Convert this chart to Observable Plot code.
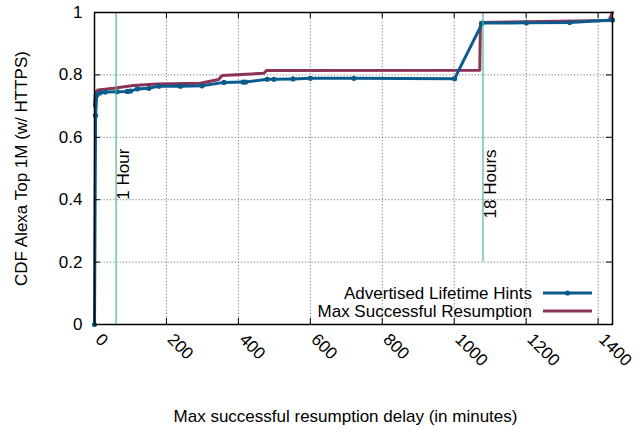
<!DOCTYPE html>
<html>
<head>
<meta charset="utf-8">
<script src="https://cdn.jsdelivr.net/npm/d3@7"></script>
<script src="https://cdn.jsdelivr.net/npm/@observablehq/plot@0.6"></script>
<style>
  html, body { margin: 0; padding: 0; background: #fff; }
  #chart { width: 642px; height: 436px; }
  svg { font-family: "Liberation Sans", Arial, Helvetica, sans-serif; }
</style>
</head>
<body>
<div id="chart"></div>
<script>
// ---- data (minutes, CDF) ----
const hintsX = [0, 3, 6, 15, 30, 63, 91, 100, 119, 151, 179, 239, 299, 360, 413, 420, 480, 499, 552, 600, 721, 1001, 1078, 1201, 1321, 1440];
const hintsY = [0, 0.67, 0.735, 0.742, 0.745, 0.746, 0.747, 0.748, 0.755, 0.757, 0.764, 0.764, 0.765, 0.776, 0.777, 0.777, 0.786, 0.786, 0.787, 0.789, 0.789, 0.788, 0.966, 0.967, 0.968, 0.976];
const resumeX = [0, 3, 10, 53, 108, 174, 294, 345, 355, 471, 478, 1071, 1073, 1430, 1440];
const resumeY = [0.70, 0.745, 0.752, 0.757, 0.766, 0.771, 0.773, 0.785, 0.798, 0.805, 0.814, 0.815, 0.968, 0.974, 1.0];
const seriesNames = ["Advertised Lifetime Hints", "Max Successful Resumption"];
const seriesColors = ["#0b5c8e", "#8c3358"];
const xTicks = [0, 200, 400, 600, 800, 1000, 1200, 1400];
const yTicks = [0, 0.2, 0.4, 0.6, 0.8, 1];
const yTickLabels = ["0", "0.2", "0.4", "0.6", "0.8", "1"];
const markerX = [60, 1080];
const markerFrom = [0, 0.2];
const markerLabelY = [0.4, 0.34];
const markerLabels = ["1 Hour", "18 Hours"];
const xLabel = "Max successful resumption delay (in minutes)";
const yLabel = "CDF Alexa Top 1M (w/ HTTPS)";

const hints = hintsX.map((x, i) => ({x, y: hintsY[i]}));
const resume = resumeX.map((x, i) => ({x, y: resumeY[i]}));
const markers = markerX.map((x, i) => ({x, y1: markerFrom[i], y2: 1, ly: markerLabelY[i], label: markerLabels[i]}));

const W = 642, H = 436, mL = 94, mR = 30, mT = 12, mB = 112;
const pw = W - mL - mR, ph = H - mT - mB;
const green = "#46b894";
const fs = 17;

const chart = Plot.plot({
  width: W, height: H,
  marginLeft: mL, marginRight: mR, marginTop: mT, marginBottom: mB,
  style: {fontFamily: "Liberation Sans, Arial, sans-serif", fontSize: fs + "px", color: "#000", background: "#fff"},
  x: {domain: [0, 1440], axis: null},
  y: {domain: [0, 1], axis: null},
  marks: [
    Plot.ruleX(xTicks.filter(d => d > 0), {x: d => d, stroke: "#777", strokeWidth: 1, strokeDasharray: "1.2,2"}),
    Plot.ruleY(yTicks.filter(d => d > 0 && d < 1), {y: d => d, stroke: "#777", strokeWidth: 1, strokeDasharray: "1.2,2"}),
    Plot.line(resume, {x: "x", y: "y", stroke: seriesColors[1], strokeWidth: 3}),
    Plot.line(hints, {x: "x", y: "y", stroke: seriesColors[0], strokeWidth: 3}),
    Plot.dot(hints, {x: "x", y: "y", r: 2.6, fill: seriesColors[0]}),
    Plot.ruleX(markers, {x: "x", y1: "y1", y2: "y2", stroke: green, strokeWidth: 1.2}),
    Plot.text(markers, {x: "x", y: "ly", text: "label", rotate: -90, textAnchor: "start", lineAnchor: "bottom", dx: 13, fontSize: fs, fill: "#000"}),
    Plot.frame({stroke: "#000", strokeWidth: 1.5}),
    Plot.tickX(xTicks, {x: d => d, insetTop: ph - 6, stroke: "#000", strokeWidth: 1}),
    Plot.tickX(xTicks, {x: d => d, insetBottom: ph - 6, stroke: "#000", strokeWidth: 1}),
    Plot.tickY(yTicks, {y: d => d, insetRight: pw - 6, stroke: "#000", strokeWidth: 1}),
    Plot.tickY(yTicks, {y: d => d, insetLeft: pw - 6, stroke: "#000", strokeWidth: 1}),
    Plot.text(yTicks, {y: d => d, frameAnchor: "left", text: (d, i) => yTickLabels[i], textAnchor: "end", dx: -12, fontSize: fs, fill: "#000"}),
    Plot.text(xTicks, {x: d => d, frameAnchor: "bottom", text: d => String(d), rotate: 45, textAnchor: "start", lineAnchor: "bottom", dy: 16, dx: 0, fontSize: fs, fill: "#000"}),
    Plot.text([xLabel], {frameAnchor: "bottom", text: d => d, textAnchor: "middle", lineAnchor: "middle", dy: 92, dx: -8, fontSize: fs, fill: "#000"}),
    Plot.text([yLabel], {frameAnchor: "left", text: d => d, textAnchor: "middle", lineAnchor: "middle", rotate: -90, dx: -73, fontSize: fs, fill: "#000"})
  ]
});

document.getElementById("chart").appendChild(chart);

// legend (inside plot, bottom right)
const svg = d3.select(chart);
const leg = svg.append("g").attr("font-size", fs + "px").attr("font-family", "Liberation Sans, Arial, sans-serif");
const legY = [293, 311];
seriesNames.forEach((name, i) => {
  leg.append("text").attr("x", 532).attr("y", legY[i]).attr("dy", "0.35em")
    .attr("text-anchor", "end").attr("fill", "#000").text(name);
  leg.append("line").attr("x1", 543).attr("x2", 592).attr("y1", legY[i]).attr("y2", legY[i])
    .attr("stroke", seriesColors[i]).attr("stroke-width", 3);
  if (i === 0) leg.append("circle").attr("cx", 567.5).attr("cy", legY[i]).attr("r", 2.6).attr("fill", seriesColors[i]);
});
</script>
</body>
</html>
